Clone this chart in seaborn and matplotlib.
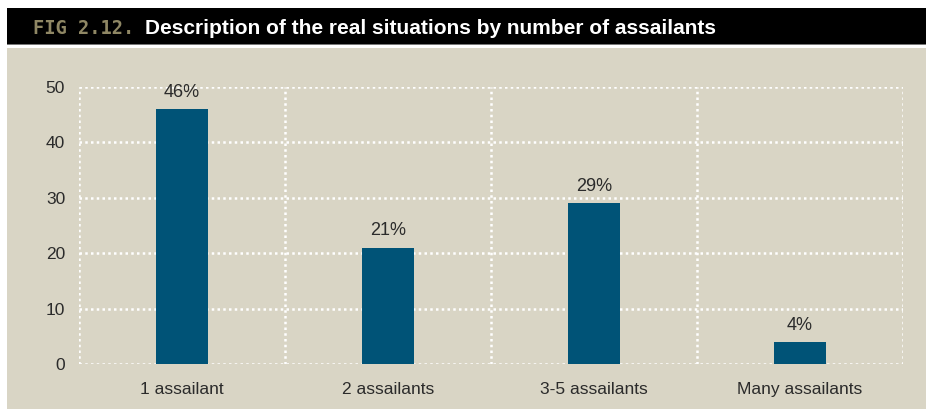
import numpy as np
import pandas as pd
import matplotlib
matplotlib.use("Agg")
import matplotlib.pyplot as plt
import seaborn as sns
from matplotlib.patches import Rectangle

categories = ["1 assailant", "2 assailants", "3-5 assailants", "Many assailants"]
values = [46, 21, 29, 4]
labels = ["46%", "21%", "29%", "4%"]
y_ticks = [0, 10, 20, 30, 40, 50]

df = pd.DataFrame({"group": categories, "pct": values})

bg = "#d9d5c5"
bar_color = "#005377"
text_color = "#2b2b2b"

sns.set_style("white")
plt.rcParams["font.family"] = ["Liberation Sans", "DejaVu Sans"]

fig = plt.figure(figsize=(9.26, 4.09), dpi=100)
fig.patch.set_facecolor("white")

# header bar and panel
fig.add_artist(Rectangle((7 / 926, 1 - 44 / 409), 1, 36 / 409, transform=fig.transFigure,
                         facecolor="black", edgecolor="none", zorder=0))
fig.add_artist(Rectangle((7 / 926, 1 - 45 / 409), 1, 1 / 409, transform=fig.transFigure,
                         facecolor="#777777", edgecolor="none", zorder=0))
fig.add_artist(Rectangle((7 / 926, 0), 1, 1 - 48 / 409, transform=fig.transFigure,
                         facecolor=bg, edgecolor="none", zorder=0))

fig.text(33 / 926, 1 - 28 / 409, "FIG 2.12.", color="#8f8764", fontsize=13.5,
         fontweight="bold", family="DejaVu Sans Mono", va="center", ha="left")
fig.text(145 / 926, 1 - 28 / 409, "Description of the real situations by number of assailants",
         color="white", fontsize=15, fontweight="bold", va="center", ha="left")

ax = fig.add_axes([79 / 926, 45 / 409, 824 / 926, 277 / 409])
ax.set_facecolor(bg)
ax.patch.set_alpha(0)

sns.barplot(data=df, x="group", y="pct", color=bar_color, width=0.25,
            saturation=1, linewidth=0, ax=ax, zorder=3)

for i, (v, lab) in enumerate(zip(values, labels)):
    ax.text(i, v + 1.5, lab, ha="center", va="bottom", fontsize=13, color=text_color)

ax.set_xlim(-0.5, 3.5)
ax.set_ylim(0, 50)
ax.set_yticks(y_ticks)
ax.set_xticks(np.arange(-0.5, 4, 1), minor=True)
ax.grid(True, axis="y", which="major", color="white", linestyle=(0, (1, 1.3)), linewidth=1.8, zorder=1)
ax.grid(True, axis="x", which="minor", color="white", linestyle=(0, (1, 1.3)), linewidth=1.8, zorder=1)
ax.set_axisbelow(True)
for s in ax.spines.values():
    s.set_visible(False)
ax.tick_params(axis="both", which="both", length=0, labelsize=12.5, labelcolor=text_color)
ax.tick_params(axis="x", pad=13)
ax.tick_params(axis="y", pad=10)
ax.set_xlabel("")
ax.set_ylabel("")

fig.savefig("out.png", dpi=100, facecolor=fig.get_facecolor())
